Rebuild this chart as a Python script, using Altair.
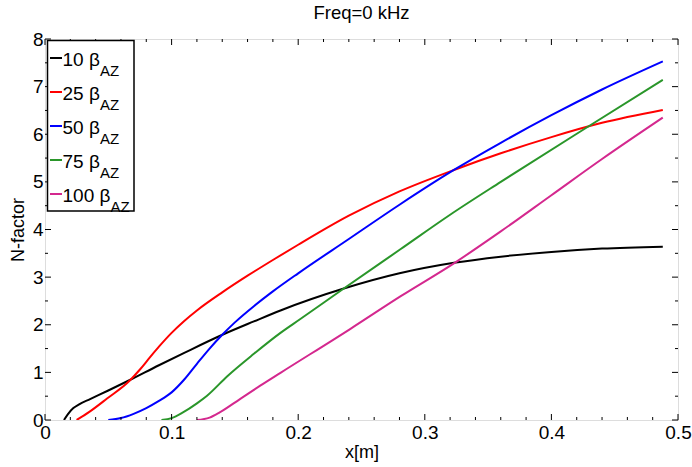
import altair as alt
import pandas as pd

# ---- data ----
x10 = [0.015, 0.018, 0.0224, 0.027, 0.0356, 0.05, 0.067, 0.09, 0.11, 0.141, 0.165, 0.186, 0.236, 0.280, 0.323, 0.360, 0.400, 0.440, 0.488]
y10 = [0.0, 0.12, 0.25, 0.33, 0.44, 0.62, 0.84, 1.15, 1.41, 1.80, 2.07, 2.30, 2.76, 3.08, 3.30, 3.43, 3.53, 3.60, 3.64]

x25 = [0.025, 0.035, 0.049, 0.067, 0.075, 0.083, 0.090, 0.100, 0.110, 0.120, 0.140, 0.160, 0.180, 0.200, 0.240, 0.280, 0.323, 0.360, 0.400, 0.440, 0.488]
y25 = [0.0, 0.17, 0.45, 0.83, 1.06, 1.32, 1.54, 1.83, 2.08, 2.30, 2.68, 3.03, 3.36, 3.68, 4.29, 4.80, 5.25, 5.60, 5.94, 6.24, 6.51]

x50 = [0.050, 0.060, 0.070, 0.080, 0.090, 0.100, 0.110, 0.120, 0.130, 0.140, 0.150, 0.165, 0.180, 0.200, 0.240, 0.280, 0.323, 0.360, 0.400, 0.440, 0.488]
y50 = [0.0, 0.04, 0.13, 0.25, 0.40, 0.58, 0.85, 1.18, 1.50, 1.79, 2.05, 2.39, 2.70, 3.08, 3.80, 4.52, 5.25, 5.82, 6.40, 6.94, 7.53]

x75 = [0.092, 0.100, 0.109, 0.120, 0.128, 0.144, 0.165, 0.186, 0.2017, 0.236, 0.281, 0.320, 0.360, 0.426, 0.488]
y75 = [0.0, 0.04, 0.16, 0.35, 0.51, 0.92, 1.39, 1.83, 2.12, 2.76, 3.59, 4.31, 5.00, 6.11, 7.14]

x100 = [0.120, 0.130, 0.138, 0.154, 0.170, 0.186, 0.241, 0.281, 0.323, 0.360, 0.400, 0.440, 0.488]
y100 = [0.0, 0.05, 0.16, 0.44, 0.72, 0.99, 1.91, 2.60, 3.29, 3.96, 4.72, 5.48, 6.35]

series_names = ["10", "25", "50", "75", "100"]
series_colors = ["#000000", "#ff0000", "#0000ff", "#2a962a", "#d4288e"]

x_major = [0.0, 0.1, 0.2, 0.3, 0.4, 0.5]
x_minor = [0.02, 0.04, 0.06, 0.08, 0.12, 0.14, 0.16, 0.18, 0.22, 0.24, 0.26, 0.28,
           0.32, 0.34, 0.36, 0.38, 0.42, 0.44, 0.46, 0.48]
y_major = [0, 1, 2, 3, 4, 5, 6, 7, 8]
y_minor = [0.5, 1.5, 2.5, 3.5, 4.5, 5.5, 6.5, 7.5]

W, H = 633, 381
FONT = "Liberation Sans"

rows = []
for name, xs_, ys_ in zip(series_names, [x10, x25, x50, x75, x100], [y10, y25, y50, y75, y100]):
    for xv, yv in zip(xs_, ys_):
        rows.append({"series": name, "x": xv, "N": yv})
df = pd.DataFrame(rows)

xs = alt.Scale(domain=[0, 0.5], nice=False, zero=False)
ys = alt.Scale(domain=[0, 8], nice=False, zero=False)
cs = alt.Scale(domain=series_names, range=series_colors)

lines = alt.Chart(df).mark_line(strokeWidth=2, interpolate="monotone", clip=True).encode(
    x=alt.X("x:Q", scale=xs, title="x[m]",
            axis=alt.Axis(values=x_major, format=".1~f", ticks=False, domain=False, grid=False,
                          labelFontSize=19, labelFont=FONT, labelPadding=3, labelColor="black",
                          titleFontSize=18, titleFont=FONT, titleFontWeight="normal", titlePadding=1,
                          titleColor="black", labelFlush=False)),
    y=alt.Y("N:Q", scale=ys, title="N-factor",
            axis=alt.Axis(values=y_major, ticks=False, domain=False, grid=False,
                          labelFontSize=19, labelFont=FONT, labelPadding=2, labelColor="black",
                          titleFontSize=18, titleFont=FONT, titleFontWeight="normal", titlePadding=5,
                          titleColor="black", labelFlush=False)),
    color=alt.Color("series:N", scale=cs, legend=None),
    order=alt.Order("x:Q"),
)

# inward ticks (MATLAB style)
def xticks(vals, length):
    d = pd.DataFrame({"t": vals})
    b = alt.Chart(d).mark_rule(color="black", strokeWidth=1).encode(
        x=alt.X("t:Q", scale=xs), y=alt.value(H), y2=alt.value(H - length))
    t = alt.Chart(d).mark_rule(color="black", strokeWidth=1).encode(
        x=alt.X("t:Q", scale=xs), y=alt.value(0), y2=alt.value(length))
    return [b, t]

def yticks(vals, length):
    d = pd.DataFrame({"t": vals})
    l = alt.Chart(d).mark_rule(color="black", strokeWidth=1).encode(
        y=alt.Y("t:Q", scale=ys), x=alt.value(0), x2=alt.value(length))
    r = alt.Chart(d).mark_rule(color="black", strokeWidth=1).encode(
        y=alt.Y("t:Q", scale=ys), x=alt.value(W), x2=alt.value(W - length))
    return [l, r]

tick_layers = xticks(x_major, 6) + xticks(x_minor, 3) + yticks(y_major, 6) + yticks(y_minor, 3)

# legend (manual, to allow subscript)
leg = pd.DataFrame({"num": series_names, "i": list(range(len(series_names)))})
leg_base = alt.Chart(leg).transform_calculate(
    ly="19 + datum.i * 34",
    ty="21 + datum.i * 34",
    sy="31.5 + datum.i * 34",
    sx="55 + 10.6 * (length(datum.num) - 2)",
    lbl="datum.num + ' β'",
)
leg_box = alt.Chart(pd.DataFrame({"a": [0]})).mark_rect(
    fill="white", stroke="black", strokeWidth=1.5).encode(
    x=alt.value(2.5), x2=alt.value(89), y=alt.value(1.5), y2=alt.value(172))
leg_lines = leg_base.mark_rule(strokeWidth=2).encode(
    x=alt.value(5), x2=alt.value(17),
    y=alt.Y("ly:Q", scale=None),
    color=alt.Color("num:N", scale=cs, legend=None))
leg_text = leg_base.mark_text(align="left", baseline="middle", fontSize=19, font=FONT, color="black").encode(
    x=alt.value(17.5), y=alt.Y("ty:Q", scale=None), text="lbl:N")
leg_sub = leg_base.mark_text(align="left", baseline="middle", fontSize=15, font=FONT, color="black").encode(
    x=alt.X("sx:Q", scale=None), y=alt.Y("sy:Q", scale=None), text=alt.value("AZ"))

chart = alt.layer(lines, *tick_layers, leg_box, leg_lines, leg_text, leg_sub).properties(
    width=W, height=H,
    title=alt.TitleParams("Freq=0 kHz", fontSize=18.5, font=FONT, fontWeight="normal", color="black",
                          offset=8),
    autosize=alt.AutoSizeParams(type="none"),
    padding={"left": 45, "top": 39, "right": 14, "bottom": 47},
).configure_view(stroke="black", strokeWidth=1.8).configure(background="white")

chart.save("out.html", embed_options={"renderer": "svg", "actions": False})
